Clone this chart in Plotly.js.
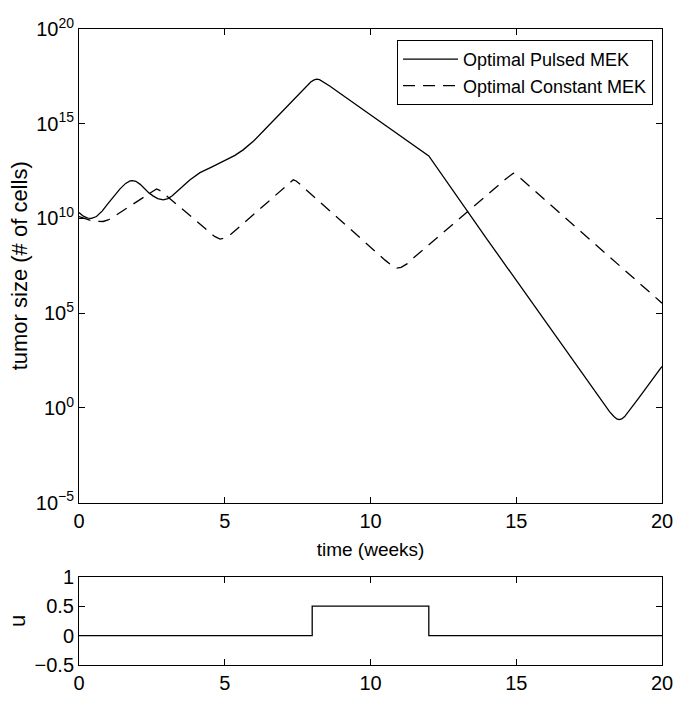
<!DOCTYPE html>
<html>
<head>
<meta charset="utf-8">
<script src="https://cdn.plot.ly/plotly-3.0.1.min.js"></script>
<style>html,body{margin:0;padding:0;background:#fff;}#chart{width:686px;height:710px;}</style>
</head>
<body>
<div id="chart"></div>
<script>
// Optimal Pulsed MEK: time (weeks) and log10 tumor size
const pulsedT = [0, 0.15, 0.3, 0.43, 0.6, 0.8, 1.0, 1.2, 1.4, 1.6, 1.75, 1.83, 1.95, 2.1, 2.25, 2.4, 2.55, 2.7, 2.89, 3.05, 3.2, 3.4, 3.6, 3.8, 4.0, 4.15, 4.6, 5.07, 5.35, 5.63, 6.0, 6.44, 7.0, 7.3, 7.58, 7.8, 7.95, 8.05, 8.15, 8.25, 8.4, 8.6, 8.95, 12.0, 14.0, 16.0, 18.1, 18.2, 18.35, 18.45, 18.53, 18.62, 18.72, 18.85, 19.2, 20.0];
const pulsedLog = [10.31, 10.12, 10.02, 10.0, 10.1, 10.4, 10.8, 11.2, 11.55, 11.85, 11.98, 12.0, 11.96, 11.8, 11.57, 11.35, 11.18, 11.05, 10.98, 11.05, 11.2, 11.45, 11.75, 12.03, 12.28, 12.42, 12.75, 13.09, 13.33, 13.62, 14.1, 14.8, 15.7, 16.17, 16.61, 16.98, 17.2, 17.3, 17.35, 17.33, 17.2, 16.99, 16.61, 13.3, 8.9, 4.55, 0.0, -0.2, -0.45, -0.58, -0.62, -0.58, -0.46, -0.2, 0.52, 2.19];
// Optimal Constant MEK
const constT = [0, 0.2, 0.4, 0.6, 0.83, 1.0, 1.2, 2.0, 2.45, 2.58, 2.66, 2.75, 2.9, 4.0, 4.4, 4.65, 4.84, 5.0, 5.2, 5.5, 7.1, 7.25, 7.35, 7.45, 7.6, 10.5, 10.75, 10.9, 11.05, 11.25, 11.5, 14.65, 14.8, 14.9, 15.0, 15.2, 20.0];
const constLog = [10.1, 9.98, 9.9, 9.85, 9.84, 9.92, 10.1, 10.9, 11.38, 11.52, 11.56, 11.5, 11.33, 9.9, 9.35, 9.05, 8.91, 8.96, 9.15, 9.55, 11.72, 11.93, 12.04, 11.98, 11.78, 7.8, 7.5, 7.38, 7.42, 7.6, 7.95, 12.1, 12.3, 12.39, 12.32, 12.05, 5.53];
// control u
const uT = [0, 8, 8, 12, 12, 20];
const uV = [0, 0, 0.5, 0.5, 0, 0];
// ticks
const xTicks = [0, 5, 10, 15, 20];
const yExps = [-5, 0, 5, 10, 15, 20];
const uTicks = [-0.5, 0, 0.5, 1];
const uTickText = ['\u22120.5', '0', '0.5', '1'];

const FONT = 'Liberation Sans, Arial, Helvetica, sans-serif';
const pow = v => Math.pow(10, v);

const traces = [
  {x: pulsedT, y: pulsedLog.map(pow), type: 'scatter', mode: 'lines', name: 'Optimal Pulsed MEK',
   line: {color: '#000', width: 1.3}, xaxis: 'x', yaxis: 'y'},
  {x: constT, y: constLog.map(pow), type: 'scatter', mode: 'lines', name: 'Optimal Constant MEK',
   line: {color: '#000', width: 1.3, dash: '12px,8px'}, xaxis: 'x', yaxis: 'y'},
  {x: uT, y: uV, type: 'scatter', mode: 'lines', showlegend: false,
   line: {color: '#000', width: 1.3}, xaxis: 'x2', yaxis: 'y2'}
];

const axisCommon = {
  showline: true, mirror: 'ticks', linecolor: '#000', linewidth: 1,
  ticks: 'inside', ticklen: 6, tickcolor: '#000', tickwidth: 1,
  showgrid: false, zeroline: false,
  tickfont: {family: FONT, size: 20, color: '#000'}
};

const layout = {
  width: 686, height: 710,
  margin: {l: 79, r: 24, t: 29, b: 44.5},
  paper_bgcolor: '#fff', plot_bgcolor: '#fff',
  font: {family: FONT, color: '#000'},
  showlegend: true,
  legend: {x: 0.9846, xanchor: 'right', y: 0.9827, yanchor: 'top',
    bgcolor: '#fff', bordercolor: '#000', borderwidth: 1,
    font: {family: FONT, size: 18, color: '#000'}, itemwidth: 55, tracegroupgap: 0},
  xaxis: Object.assign({}, axisCommon, {domain: [0, 1], range: [0, 20], tickvals: xTicks, anchor: 'y',
    title: {text: 'time (weeks)', font: {family: FONT, size: 19, color: '#000'}, standoff: 12}}),
  yaxis: Object.assign({}, axisCommon, {domain: [0.2553, 1], type: 'log', range: [-5, 20],
    tickvals: yExps.map(pow), ticktext: yExps.map(e => '10<sup>' + (e < 0 ? '\u2212' + (-e) : e) + '</sup>'),
    title: {text: 'tumor size (# of cells)', font: {family: FONT, size: 22, color: '#000'}, standoff: 2}}),
  xaxis2: Object.assign({}, axisCommon, {domain: [0, 1], range: [0, 20], tickvals: xTicks, anchor: 'y2'}),
  yaxis2: Object.assign({}, axisCommon, {domain: [0, 0.139], range: [-0.5, 1], tickvals: uTicks, ticktext: uTickText, anchor: 'x2',
    title: {text: 'u', font: {family: FONT, size: 22, color: '#000'}, standoff: 2}})
};

Plotly.newPlot('chart', traces, layout, {displayModeBar: false, staticPlot: true});
</script>
</body>
</html>
